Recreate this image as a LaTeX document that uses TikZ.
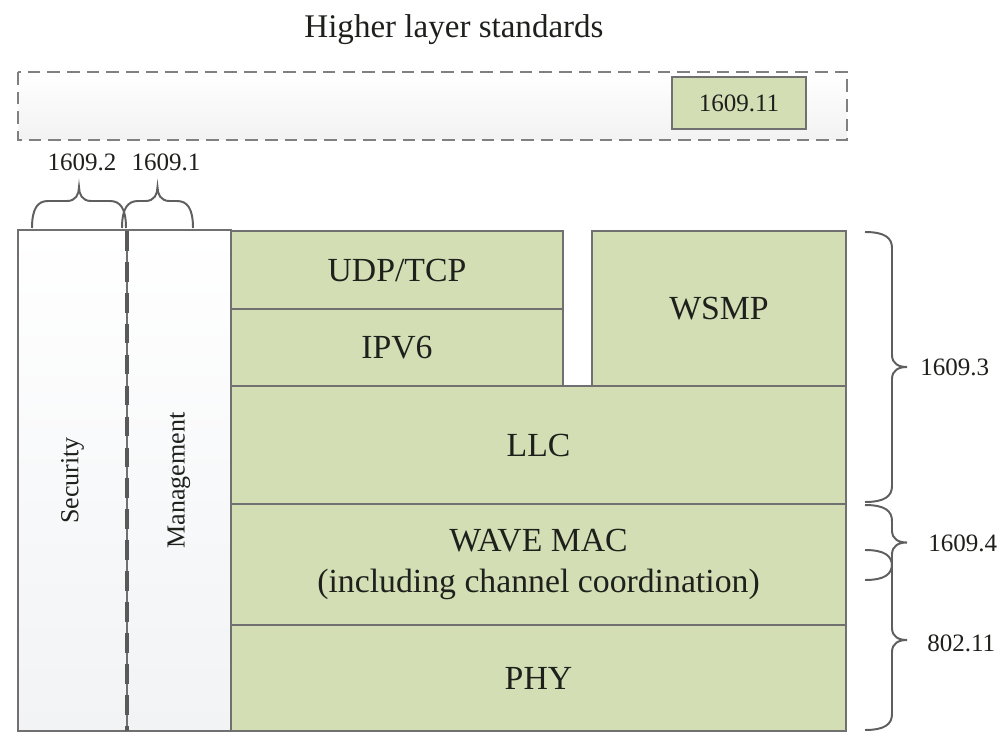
\documentclass[tikz,border=0pt]{standalone}
\usepackage{fontspec}
\setmainfont{Liberation Serif}
\usepackage{tikz}
\usepackage{xcolor}
\usetikzlibrary{calc,
	positioning,
	shadows}
\definecolor{layergreen}{RGB}{212,222,181}
\definecolor{linegray}{RGB}{112,112,112}
\definecolor{bracegray}{RGB}{95,95,95}
\definecolor{colgray}{RGB}{241,243,245}
\definecolor{txt}{RGB}{30,32,28}
\tikzstyle{col}=[draw=linegray, line width=1pt, top color=white, bottom color=colgray]
\tikzstyle{layerbox}=[draw=linegray, line width=1pt, fill=layergreen]
\tikzstyle{lbl}=[text=txt, font=\fontsize{24}{29}\selectfont, align=center]
\tikzstyle{rotlbl}=[text=txt, font=\fontsize{18.5}{22}\selectfont, rotate=90]
\tikzstyle{stdlabel}=[text=txt, font=\fontsize{17.8}{21}\selectfont, inner sep=0]
\tikzstyle{bracket}=[draw=bracegray, line width=1.4pt]
\tikzstyle{upperbox}=[draw=gray, line width=1.8pt, dash pattern=on 9pt off 5pt,
		top color=white, bottom color=gray!10]
\tikzstyle{divider}=[draw=black!65, line width=2.2pt, dash pattern=on 14pt off 8pt]
% braces: x of the ends, top, bottom  /  y of the ends, left, right
\newcommand{\sidebrace}[3]{%
	\draw[bracket] (#1,#2) .. controls ({#1+20},#2) and ({#1+27},{#2+6}) .. ({#1+27},{#2+16})
		-- ({#1+27},{(#2+#3)/2-12}) .. controls ({#1+27},{(#2+#3)/2-3}) and ({#1+34},{(#2+#3)/2}) .. ({#1+42},{(#2+#3)/2})
		.. controls ({#1+34},{(#2+#3)/2}) and ({#1+27},{(#2+#3)/2+3}) .. ({#1+27},{(#2+#3)/2+12})
		-- ({#1+27},{#3-16}) .. controls ({#1+27},{#3-6}) and ({#1+20},#3) .. (#1,#3);}
\newcommand{\topbrace}[3]{%
	\draw[bracket] (#2,#1) .. controls (#2,{#1-20}) and ({#2+6},{#1-27}) .. ({#2+16},{#1-27})
		-- ({(#2+#3)/2-12},{#1-27}) .. controls ({(#2+#3)/2-3},{#1-27}) and ({(#2+#3)/2},{#1-34}) .. ({(#2+#3)/2},{#1-41})
		.. controls ({(#2+#3)/2},{#1-34}) and ({(#2+#3)/2+3},{#1-27}) .. ({(#2+#3)/2+12},{#1-27})
		-- ({#3-16},{#1-27}) .. controls ({#3-6},{#1-27}) and (#3,{#1-20}) .. (#3,#1);}

\begin{document}
\begin{tikzpicture}[x=0.025cm, y=-0.025cm]
	\useasboundingbox (0,0) rectangle (1008,742);
	% higher layers
	\node[lbl, font=\fontsize{23.5}{28}\selectfont, anchor=base] (hls) at (454,38) {Higher layer standards};
	\draw[upperbox] (18,72) rectangle (847,140);
	\node[layerbox, stdlabel, inner sep=0, minimum width=3.35cm, minimum height=1.3cm,
		drop shadow={shadow xshift=1pt, shadow yshift=-1pt, opacity=0.25}] (s11) at (739,103) {1609.11};
	% side columns
	\path[col] (18,230) rectangle (127,731) node[midway, rotlbl] (sec) {Security};
	\path[col] (127,230) rectangle (231,731) node[midway, rotlbl] (mgmt) {Management};
	\draw[divider] (127,231) -- (127,731);
	% protocol stack
	\path[layerbox] (231,231) rectangle (563,309) node[midway, lbl] (udp) {UDP/TCP};
	\path[layerbox] (231,309) rectangle (563,386) node[midway, lbl] (ipv6) {IPV6};
	\path[layerbox] (592,231) rectangle (846,386) node[midway, lbl] (wsmp) {WSMP};
	\path[layerbox] (231,386) rectangle (846,504) node[midway, lbl] (llc) {LLC};
	\path[layerbox] (231,504) rectangle (846,625) node[midway, lbl] (mac) {WAVE MAC\\(including channel coordination)};
	\path[layerbox] (231,625) rectangle (846,731) node[midway, lbl] (phy) {PHY};
	% standards
	\topbrace{228}{32}{126}
	\topbrace{228}{122}{193}
	\node[stdlabel] (s2) at (82,162) {1609.2};
	\node[stdlabel] (s1) at (166,162) {1609.1};
	\sidebrace{865}{232}{502}
	\sidebrace{865}{505}{580}
	\sidebrace{865}{550}{730}
	\node[stdlabel, anchor=west] (s3) at (920,367) {1609.3};
	\node[stdlabel, anchor=west] (s4) at (928,543) {1609.4};
	\node[stdlabel, anchor=west] (s80211) at (927,643) {802.11};
\end{tikzpicture}
\end{document}
